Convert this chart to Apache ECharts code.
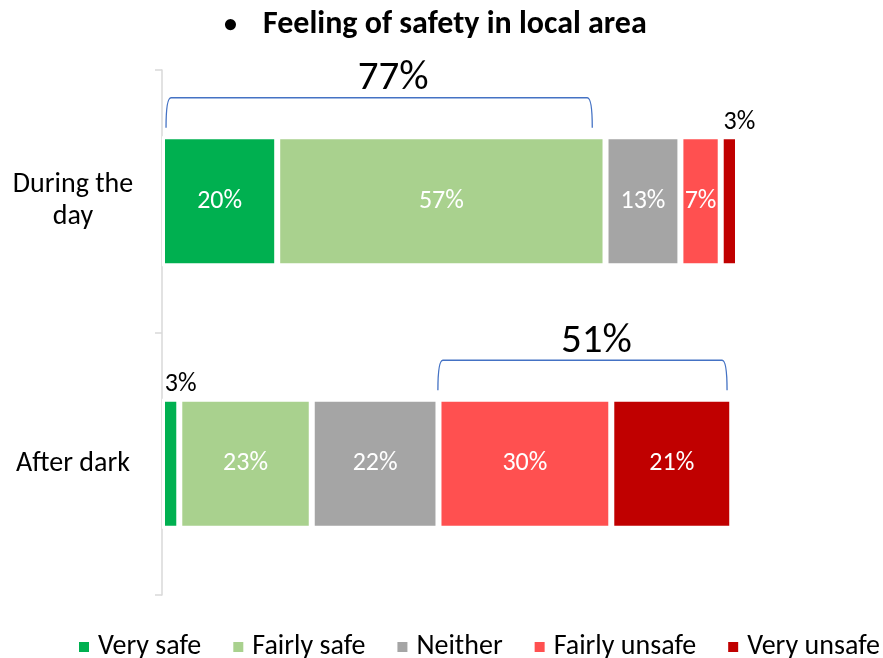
<!DOCTYPE html>
<html>
<head>
<meta charset="utf-8">
<title>Feeling of safety</title>
<script src="https://cdn.jsdelivr.net/npm/echarts@6/dist/echarts.min.js"></script>
<style>
  html, body { margin: 0; padding: 0; background: #fff; }
  #chart { width: 883px; height: 658px; }
</style>
</head>
<body>
<div id="chart"></div>
<script>
var categories = ['During the\nday', 'After dark'];
var seriesNames = ['Very safe', 'Fairly safe', 'Neither', 'Fairly unsafe', 'Very unsafe'];
var verySafe = [20, 3];
var fairlySafe = [57, 23];
var neither = [13, 22];
var fairlyUnsafe = [7, 30];
var veryUnsafe = [3, 21];
// bracket spans: [start, end, category, label]
var brackets = [
  [0.7, 74.7, 'During the\nday', '77%'],
  [47.9, 98.1, 'After dark', '51%']
];
var colors = ['#00B050', '#A9D18E', '#A5A5A5', '#FF5050', '#C00000'];
var font = 'Carlito, "Liberation Sans Narrow", "Liberation Sans", sans-serif';

var chart = echarts.init(document.getElementById('chart'));
var values = [verySafe, fairlySafe, neither, fairlyUnsafe, veryUnsafe];

var barSeries = values.map(function (arr, i) {
  return {
    name: seriesNames[i],
    type: 'bar',
    stack: 'total',
    barWidth: 130,
    itemStyle: { color: colors[i], borderColor: '#fff', borderWidth: 3 },
    label: {
      show: true,
      position: 'inside',
      color: '#fff',
      fontSize: 26,
      fontFamily: font,
      formatter: '{c}%'
    },
    data: arr.map(function (v) {
      if (v < 5) {
        return { value: v, label: { position: 'top', offset: [10, 4], color: '#000', fontSize: 26 } };
      }
      return v;
    })
  };
});

var bracketSeries = {
  type: 'custom',
  silent: true,
  encode: { x: [0, 1], y: 2 },
  renderItem: function (params, api) {
    var p0 = api.coord([api.value(0), api.value(2)]);
    var p1 = api.coord([api.value(1), api.value(2)]);
    var barTop = p0[1] - 63.5;
    var yTop = barTop - 40;
    var yBot = barTop - 10;
    var x0 = p0[0], x1 = p1[0], r = 5;
    var path = 'M' + x0 + ',' + yBot +
      ' Q' + x0 + ',' + yTop + ' ' + (x0 + r) + ',' + yTop +
      ' L' + (x1 - r) + ',' + yTop +
      ' Q' + x1 + ',' + yTop + ' ' + x1 + ',' + yBot;
    return {
      type: 'group',
      children: [
        {
          type: 'path',
          shape: { pathData: path },
          style: { fill: null, stroke: '#4472C4', lineWidth: 1.3 }
        },
        {
          type: 'text',
          style: {
            x: (x0 + x1) / 2 + 14,
            y: yTop - 19,
            text: api.value(3),
            fill: '#000',
            font: '41px ' + font,
            align: 'center',
            verticalAlign: 'middle'
          }
        }
      ]
    };
  },
  data: brackets
};

var option = {
  animation: false,
  title: {
    text: '{b|•}{t|Feeling of safety in local area}',
    left: 219,
    top: 4,
    textStyle: {
      rich: {
        b: { fontSize: 26, color: '#000', fontFamily: font, width: 39 },
        t: { fontSize: 32, fontWeight: 'bold', color: '#000', fontFamily: font }
      }
    }
  },
  legend: {
    data: seriesNames,
    left: 72,
    top: 628,
    width: 811,
    icon: 'rect',
    itemWidth: 12,
    itemHeight: 12,
    itemGap: 30,
    textStyle: { fontSize: 28, color: '#000', fontFamily: font, padding: [0, 0, 0, 3] }
  },
  grid: { left: 162, right: 145, top: 70, bottom: 63 },
  xAxis: {
    type: 'value',
    min: 0,
    max: 100,
    show: false
  },
  yAxis: {
    type: 'category',
    inverse: true,
    data: categories,
    axisLine: { lineStyle: { color: '#D9D9D9', width: 1.5 } },
    axisTick: { show: true, length: 7, lineStyle: { color: '#D9D9D9', width: 1.5 } },
    axisLabel: {
      color: '#000',
      fontSize: 28,
      fontFamily: font,
      margin: 89,
      align: 'center',
      lineHeight: 32
    }
  },
  series: barSeries.concat([bracketSeries])
};
chart.setOption(option);
</script>
</body>
</html>
